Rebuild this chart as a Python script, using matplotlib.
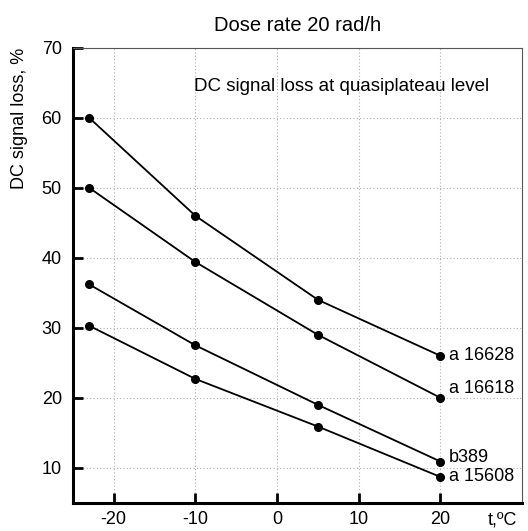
import matplotlib
matplotlib.use("Agg")
import matplotlib.pyplot as plt

plt.rcParams["font.family"] = ["Liberation Sans", "DejaVu Sans"]
plt.rcParams["axes.unicode_minus"] = False

temps = [-23, -10, 5, 20]
loss_a16628 = [60.0, 46.0, 34.0, 26.0]
loss_a16618 = [50.0, 39.4, 29.0, 20.0]
loss_b389 = [36.2, 27.5, 19.0, 10.9]
loss_a15608 = [30.3, 22.7, 15.9, 8.7]

series_names = ["a 16628", "a 16618", "b389", "a 15608"]
series_values = [loss_a16628, loss_a16618, loss_b389, loss_a15608]
label_dy = [0, 7, 3, 0]  # label nudge in points

x_ticks = [-20, -10, 0, 10, 20]
y_ticks = [10, 20, 30, 40, 50, 60, 70]

fs = 13

fig = plt.figure(figsize=(5.28, 5.31), dpi=100)
ax = fig.add_axes([0.138, 0.053, 0.851, 0.857])

for name, vals, dy in zip(series_names, series_values, label_dy):
    ax.plot(temps, vals, color="black", lw=1.3, marker="o", ms=5.5)
    ax.annotate(name, (temps[-1], vals[-1]), xytext=(6, dy), textcoords="offset points",
                fontsize=fs, va="center", ha="left")

ax.set_xlim(-25, 30)
ax.set_ylim(5, 70)
ax.set_xticks(x_ticks)
ax.set_yticks(y_ticks)
ax.tick_params(direction="in", length=7, width=2, labelsize=fs)
ax.tick_params(axis="y", pad=8)
ax.tick_params(axis="x", pad=6)
ax.grid(True, color="#b0b0b0", linestyle=(0, (1, 2)), lw=0.8)

for side in ["left", "bottom"]:
    ax.spines[side].set_linewidth(2.2)
for side in ["top", "right"]:
    ax.spines[side].set_linewidth(0.8)
    ax.spines[side].set_color("#555555")

ax.set_ylabel("DC signal loss, %", fontsize=fs, labelpad=10, loc="top")
ax.set_title("Dose rate 20 rad/h", fontsize=14.5, pad=12)
ax.text(0.27, 0.915, "DC signal loss at quasiplateau level", transform=ax.transAxes,
        fontsize=13.5, ha="left", va="center")
ax.annotate("t,ºC", xy=(27.6, 0), xycoords=("data", "axes fraction"),
            xytext=(0, -6), textcoords="offset points",
            fontsize=fs, ha="center", va="top")

fig.savefig("out.png", dpi=100)
